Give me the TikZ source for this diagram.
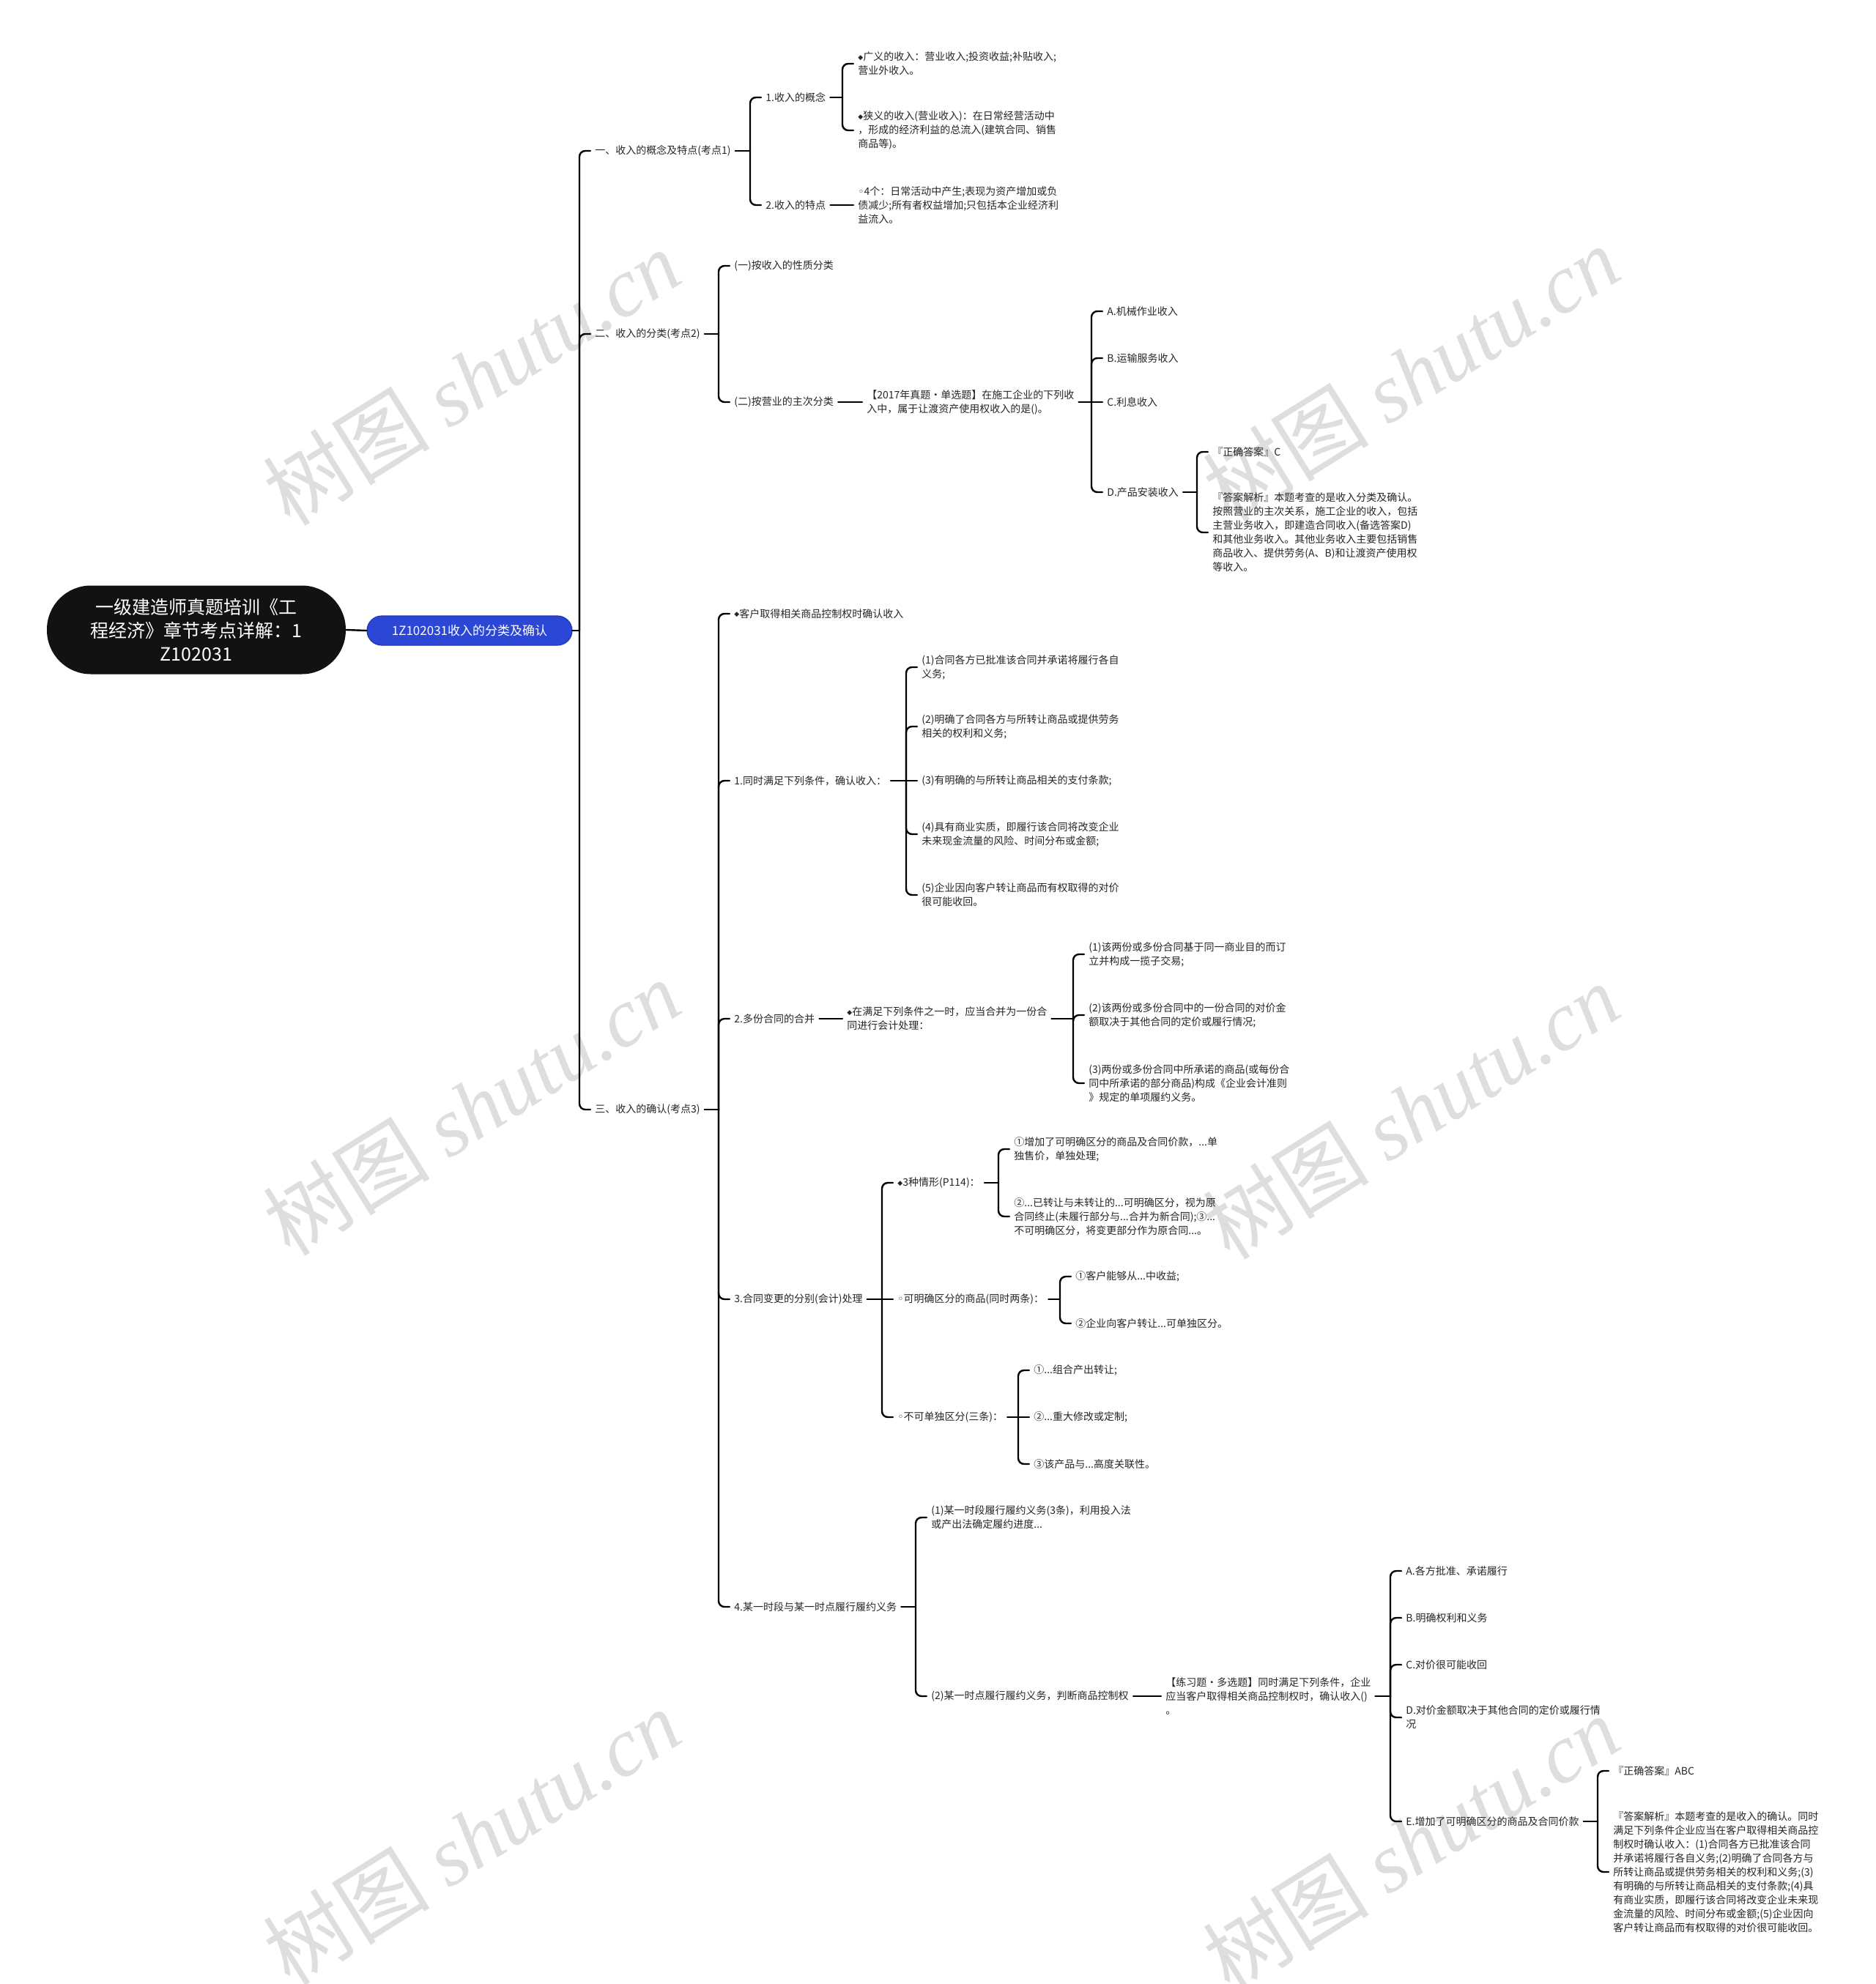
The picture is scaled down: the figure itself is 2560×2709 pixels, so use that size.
\documentclass[tikz,border=0pt]{standalone}
\usepackage{fontspec}
\setmainfont{Noto Sans CJK SC}
\newfontfamily\dejavu{DejaVu Sans}
\newfontfamily\wmserif{Liberation Serif}
\usetikzlibrary{calc}
\definecolor{txtc}{HTML}{262626}
\definecolor{pillblue}{HTML}{2C46D5}
\definecolor{pillline}{HTML}{2036B5}
\definecolor{wmc}{HTML}{DEDEDE}
\newcommand\dia{\raisebox{0.7pt}{\dejavu\fontsize{4.5pt}{4.5pt}\selectfont ◆}}
\newcommand\wcirc{{\dejavu ◦}}
\newcommand\mmlink[2]{%
  \draw[conn] (#1.east) -- ([xshift=-7.5pt]#2.west |- #1.east);
  \draw[conn,rounded corners=4pt] ([xshift=-7.5pt]#2.west |- #1.east) |- (#2.west);}
\newcommand\mmstraight[2]{\draw[conn] (#1.east) -- (#2.west);}
\begin{document}
\begin{tikzpicture}[x=0.5pt,y=-0.5pt,
 conn/.style={draw=black, line width=1.2pt, line cap=round},
 txt/.style={font=\fontsize{7pt}{9.5pt}\selectfont, text=txtc, align=left, inner xsep=3pt, inner ysep=1pt, anchor=west},
 wm/.style={font=\fontsize{57pt}{57pt}\selectfont, text=wmc, rotate=32, inner sep=0pt}]
\useasboundingbox (0,0) rectangle (2560,2709);
\fill[white] (0,0) rectangle (2560,2709);

% watermarks (behind)
\foreach \wx/\wy [count=\i] in {644/515, 1926/510, 644/1512, 1926/1517, 644/2508, 1926/2517}{
  \node[wm] (wm\i) at (\wx,\wy) {树图 {\wmserif\itshape shutu.cn}};
}

% root and main
\node[fill=black!93, text=white, rounded corners=30pt, minimum width=204pt, minimum height=60.5pt, align=center, inner sep=0pt,
  font=\fontsize{12.5pt}{16pt}\selectfont] (root) at (268,860) {一级建造师真题培训《工\\程经济》章节考点详解：1\\Z102031};
\node[fill=pillblue, draw=pillline, line width=0.6pt, text=white, rounded corners=10pt, minimum width=140pt, minimum height=20pt, inner sep=0pt,
  font=\fontsize{8.5pt}{10pt}\selectfont] (blue) at (641,861) {1Z102031收入的分类及确认};
\draw[conn] (root.east) -- (blue.west);

% level 2
\node[txt] (A1) at (806,206) {一、收入的概念及特点(考点1)};
\node[txt] (A2) at (806,456) {二、收入的分类(考点2)};
\node[txt] (A3) at (806,1515) {三、收入的确认(考点3)};
\mmlink{blue}{A1}\mmlink{blue}{A2}\mmlink{blue}{A3}

% branch 1
\node[txt] (B1) at (1039,133) {1.收入的概念};
\node[txt] (B2) at (1039,280) {2.收入的特点};
\mmlink{A1}{B1}\mmlink{A1}{B2}
\node[txt] (C1) at (1165,87) {\dia{}广义的收入：营业收入;投资收益;补贴收入;\\营业外收入。};
\node[txt] (C2) at (1165,178) {\dia{}狭义的收入(营业收入)：在日常经营活动中\\，形成的经济利益的总流入(建筑合同、销售\\商品等)。};
\mmlink{B1}{C1}\mmlink{B1}{C2}
\node[txt] (C3) at (1165,280) {\wcirc{}4个：日常活动中产生;表现为资产增加或负\\债减少;所有者权益增加;只包括本企业经济利\\益流入。};
\mmstraight{B2}{C3}

% branch 2
\node[txt] (B3) at (996,363) {(一)按收入的性质分类};
\node[txt] (B4) at (996,549) {(二)按营业的主次分类};
\mmlink{A2}{B3}\mmlink{A2}{B4}
\node[txt] (C4) at (1177,549) {【2017年真题·单选题】在施工企业的下列收\\入中，属于让渡资产使用权收入的是()。};
\mmstraight{B4}{C4}
\node[txt] (D1) at (1505,425) {A.机械作业收入};
\node[txt] (D2) at (1505,489) {B.运输服务收入};
\node[txt] (D3) at (1505,549) {C.利息收入};
\node[txt] (D4) at (1505,672) {D.产品安装收入};
\mmlink{C4}{D1}\mmlink{C4}{D2}\mmstraight{C4}{D3}\mmlink{C4}{D4}
\node[txt] (E1) at (1649,617) {『正确答案』C};
\node[txt] (E2) at (1649,727) {『答案解析』本题考查的是收入分类及确认。\\按照营业的主次关系，施工企业的收入，包括\\主营业务收入，即建造合同收入(备选答案D)\\和其他业务收入。其他业务收入主要包括销售\\商品收入、提供劳务(A、B)和让渡资产使用权\\等收入。};
\mmlink{D4}{E1}\mmlink{D4}{E2}

% branch 3
\node[txt] (B5) at (996,838) {\dia{}客户取得相关商品控制权时确认收入};
\node[txt] (B6) at (996,1066) {1.同时满足下列条件，确认收入：};
\node[txt] (B7) at (996,1391) {2.多份合同的合并};
\node[txt] (B8) at (996,1774) {3.合同变更的分别(会计)处理};
\node[txt] (B9) at (996,2194) {4.某一时段与某一时点履行履约义务};
\mmlink{A3}{B5}\mmlink{A3}{B6}\mmlink{A3}{B7}\mmlink{A3}{B8}\mmlink{A3}{B9}

\node[txt] (C5) at (1252,911) {(1)合同各方已批准该合同并承诺将履行各自\\义务;};
\node[txt] (C6) at (1252,992) {(2)明确了合同各方与所转让商品或提供劳务\\相关的权利和义务;};
\node[txt] (C7) at (1252,1066) {(3)有明确的与所转让商品相关的支付条款;};
\node[txt] (C8) at (1252,1139) {(4)具有商业实质，即履行该合同将改变企业\\未来现金流量的风险、时间分布或金额;};
\node[txt] (C9) at (1252,1222) {(5)企业因向客户转让商品而有权取得的对价\\很可能收回。};
\mmlink{B6}{C5}\mmlink{B6}{C6}\mmstraight{B6}{C7}\mmlink{B6}{C8}\mmlink{B6}{C9}

\node[txt] (C10) at (1150,1391) {\dia{}在满足下列条件之一时，应当合并为一份合\\同进行会计处理：};
\mmstraight{B7}{C10}
\node[txt] (D5) at (1480,1303) {(1)该两份或多份合同基于同一商业目的而订\\立并构成一揽子交易;};
\node[txt] (D6) at (1480,1386) {(2)该两份或多份合同中的一份合同的对价金\\额取决于其他合同的定价或履行情况;};
\node[txt] (D7) at (1480,1479) {(3)两份或多份合同中所承诺的商品(或每份合\\同中所承诺的部分商品)构成《企业会计准则\\》规定的单项履约义务。};
\mmlink{C10}{D5}\mmlink{C10}{D6}\mmlink{C10}{D7}

\node[txt] (C11) at (1219,1615) {\dia{}3种情形(P114)：};
\node[txt] (C12) at (1219,1774) {\wcirc{}可明确区分的商品(同时两条)：};
\node[txt] (C13) at (1219,1935) {\wcirc{}不可单独区分(三条)：};
\mmlink{B8}{C11}\mmstraight{B8}{C12}\mmlink{B8}{C13}
\node[txt] (D8) at (1378,1569) {①增加了可明确区分的商品及合同价款，...单\\独售价，单独处理;};
\node[txt] (D9) at (1378,1661) {②...已转让与未转让的...可明确区分，视为原\\合同终止(未履行部分与...合并为新合同);③...\\不可明确区分，将变更部分作为原合同...。};
\mmlink{C11}{D8}\mmlink{C11}{D9}
\node[txt] (D10) at (1462,1743) {①客户能够从...中收益;};
\node[txt] (D11) at (1462,1807) {②企业向客户转让...可单独区分。};
\mmlink{C12}{D10}\mmlink{C12}{D11}
\node[txt] (D12) at (1405,1871) {①...组合产出转让;};
\node[txt] (D13) at (1405,1935) {②...重大修改或定制;};
\node[txt] (D14) at (1405,1999) {③该产品与...高度关联性。};
\mmlink{C13}{D12}\mmstraight{C13}{D13}\mmlink{C13}{D14}

\node[txt] (C14) at (1265,2072) {(1)某一时段履行履约义务(3条)，利用投入法\\或产出法确定履约进度...};
\node[txt] (C15) at (1265,2316) {(2)某一时点履行履约义务，判断商品控制权};
\mmlink{B9}{C14}\mmlink{B9}{C15}
\node[txt] (D15) at (1585,2316) {【练习题·多选题】同时满足下列条件，企业\\应当客户取得相关商品控制权时，确认收入()\\。};
\mmstraight{C15}{D15}
\node[txt] (E3) at (1913,2145) {A.各方批准、承诺履行};
\node[txt] (E4) at (1913,2209) {B.明确权利和义务};
\node[txt] (E5) at (1913,2273) {C.对价很可能收回};
\node[txt] (E6) at (1913,2345) {D.对价金额取决于其他合同的定价或履行情\\况};
\node[txt] (E7) at (1913,2487) {E.增加了可明确区分的商品及合同价款};
\mmlink{D15}{E3}\mmlink{D15}{E4}\mmlink{D15}{E5}\mmlink{D15}{E6}\mmlink{D15}{E7}
\node[txt] (F1) at (2196,2418) {『正确答案』ABC};
\node[txt] (F2) at (2196,2556) {『答案解析』本题考查的是收入的确认。同时\\满足下列条件企业应当在客户取得相关商品控\\制权时确认收入：(1)合同各方已批准该合同\\并承诺将履行各自义务;(2)明确了合同各方与\\所转让商品或提供劳务相关的权利和义务;(3)\\有明确的与所转让商品相关的支付条款;(4)具\\有商业实质，即履行该合同将改变企业未来现\\金流量的风险、时间分布或金额;(5)企业因向\\客户转让商品而有权取得的对价很可能收回。};
\mmlink{E7}{F1}\mmlink{E7}{F2}
\end{tikzpicture}
\end{document}
